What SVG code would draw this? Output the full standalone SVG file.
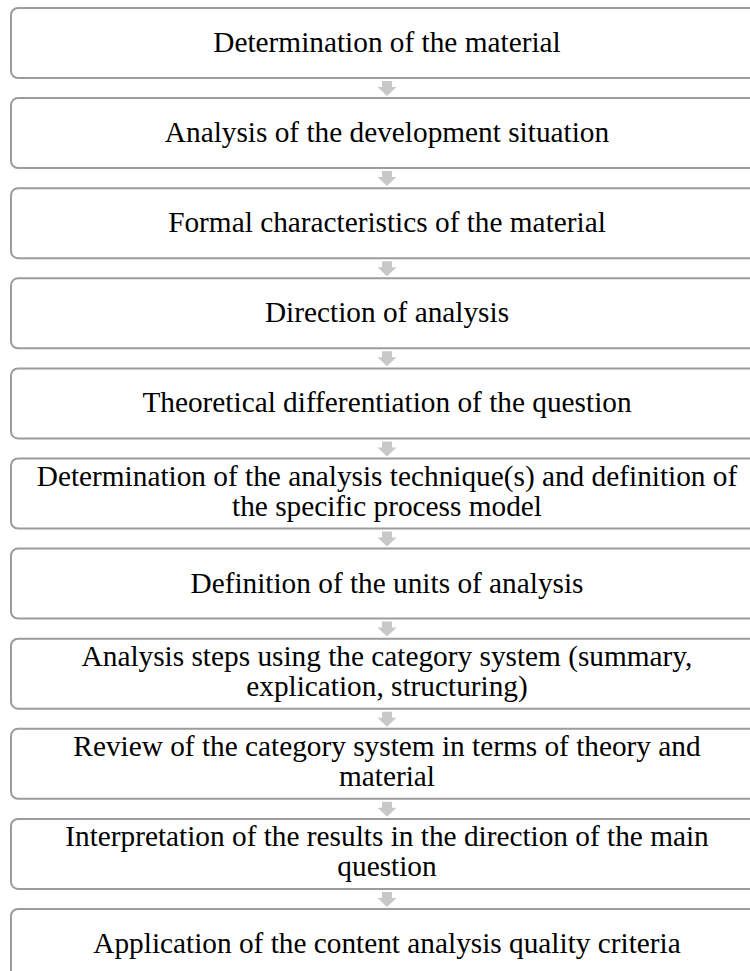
<svg xmlns="http://www.w3.org/2000/svg" width="750" height="971" viewBox="0 0 750 971">
<defs>
<style>
.box{fill:#ffffff;stroke:#9c9c9c;stroke-width:2}
text{font-family:'Liberation Serif','Times New Roman',serif;font-size:29.3px;fill:#000000;text-anchor:middle}
.arr{fill:#c8c8c8}
</style>
<path id="ar" class="arr" d="M-5,0 H5 V6 H9.5 L0,15 L-9.5,6 H-5 Z"/>
</defs>
<rect width="750" height="971" fill="#ffffff"/>
<g id="connectors">
<use href="#ar" x="387" y="81"/>
<use href="#ar" x="387" y="171.1"/>
<use href="#ar" x="387" y="261.2"/>
<use href="#ar" x="387" y="351.3"/>
<use href="#ar" x="387" y="441.4"/>
<use href="#ar" x="387" y="531.5"/>
<use href="#ar" x="387" y="621.6"/>
<use href="#ar" x="387" y="711.7"/>
<use href="#ar" x="387" y="801.8"/>
<use href="#ar" x="387" y="891.9"/>
</g>
<g id="n1"><rect class="box" x="11" y="8" width="752" height="70" rx="7"/><text x="387" y="52">Determination of the material</text></g>
<g id="n2"><rect class="box" x="11" y="98.1" width="752" height="70" rx="7"/><text x="387" y="142.1">Analysis of the development situation</text></g>
<g id="n3"><rect class="box" x="11" y="188.2" width="752" height="70" rx="7"/><text x="387" y="232.2">Formal characteristics of the material</text></g>
<g id="n4"><rect class="box" x="11" y="278.3" width="752" height="70" rx="7"/><text x="387" y="322.3">Direction of analysis</text></g>
<g id="n5"><rect class="box" x="11" y="368.4" width="752" height="70" rx="7"/><text x="387" y="412.4">Theoretical differentiation of the question</text></g>
<g id="n6"><rect class="box" x="11" y="458.5" width="752" height="70" rx="7"/><text x="387" y="485.5">Determination of the analysis technique(s) and definition of</text><text x="387" y="515.5">the specific process model</text></g>
<g id="n7"><rect class="box" x="11" y="548.6" width="752" height="70" rx="7"/><text x="387" y="592.6">Definition of the units of analysis</text></g>
<g id="n8"><rect class="box" x="11" y="638.7" width="752" height="70" rx="7"/><text x="387" y="665.7">Analysis steps using the category system (summary,</text><text x="387" y="695.7">explication, structuring)</text></g>
<g id="n9"><rect class="box" x="11" y="728.8" width="752" height="70" rx="7"/><text x="387" y="755.8">Review of the category system in terms of theory and</text><text x="387" y="785.8">material</text></g>
<g id="n10"><rect class="box" x="11" y="818.9" width="752" height="70" rx="7"/><text x="387" y="845.9">Interpretation of the results in the direction of the main</text><text x="387" y="875.9">question</text></g>
<g id="n11"><rect class="box" x="11" y="909" width="752" height="70" rx="7"/><text x="387" y="953">Application of the content analysis quality criteria</text></g>
</svg>
